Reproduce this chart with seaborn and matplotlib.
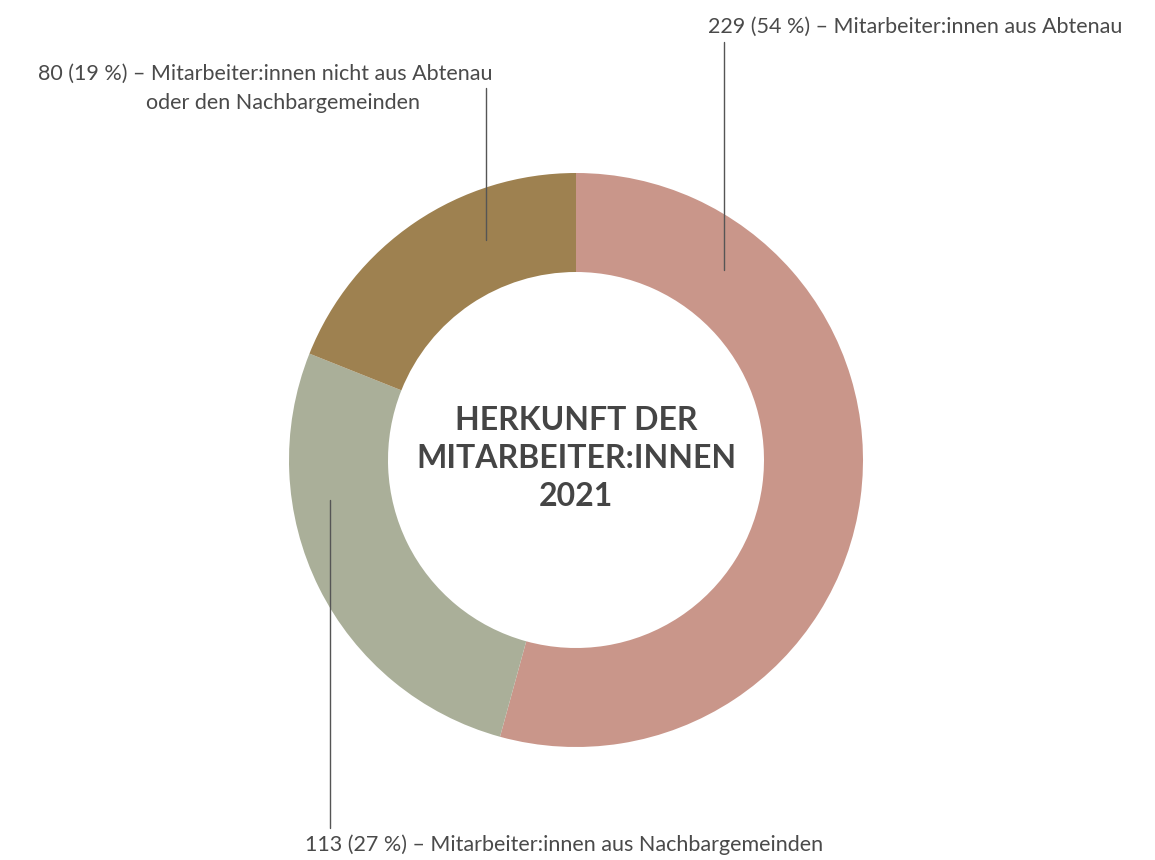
import matplotlib
matplotlib.use("Agg")
import matplotlib.pyplot as plt
import seaborn as sns

# data
categories = ["Mitarbeiter:innen aus Abtenau",
              "Mitarbeiter:innen aus Nachbargemeinden",
              "Mitarbeiter:innen nicht aus Abtenau oder den Nachbargemeinden"]
values = [229, 113, 80]
percents = [54, 27, 19]
colors = ["#C9968A", "#AAAF99", "#9E8150"]
title_lines = ["HERKUNFT DER", "MITARBEITER:INNEN", "2021"]

sns.set_theme(style="white")
plt.rcParams["font.family"] = ["Lato", "DejaVu Sans"]

W, H = 1155, 860
fig = plt.figure(figsize=(W / 100, H / 100), dpi=100)
ax = fig.add_axes([0, 0, 1, 1])
ax.set_xlim(0, W)
ax.set_ylim(0, H)
ax.set_aspect("equal")
ax.axis("off")

def Y(y):
    return H - y

cx, cy, R = 576, Y(460), 287
ax.pie(values, colors=colors, startangle=90, counterclock=False,
       center=(cx, cy), radius=R, frame=True,
       wedgeprops=dict(width=99, edgecolor="none"))
ax.set_xlim(0, W)
ax.set_ylim(0, H)
ax.axis("off")

txt = "#454545"
lab = dict(color="#4a4a4a", fontsize=15.5, fontweight="normal")

# leader lines
ax.plot([724, 724], [Y(42), Y(270)], color="#555555", lw=1)
ax.plot([486, 486], [Y(88), Y(240)], color="#555555", lw=1)
ax.plot([330, 330], [Y(500), Y(828)], color="#555555", lw=1)

ax.text(708, Y(27), f"{values[0]} ({percents[0]} %) – {categories[0]}",
        ha="left", va="center", **lab)
ax.text(38, Y(74), f"{values[2]} ({percents[2]} %) – Mitarbeiter:innen nicht aus Abtenau",
        ha="left", va="center", **lab)
ax.text(146, Y(103), "oder den Nachbargemeinden", ha="left", va="center", **lab)
ax.text(305, Y(845), f"{values[1]} ({percents[1]} %) – {categories[1]}",
        ha="left", va="center", **lab)

for i, (line, yy) in enumerate(zip(title_lines, [420, 458, 496])):
    ax.text(cx, Y(yy), line, ha="center", va="center", color=txt,
            fontsize=23, fontweight="bold")

fig.savefig("out.png", dpi=100, facecolor="white")
